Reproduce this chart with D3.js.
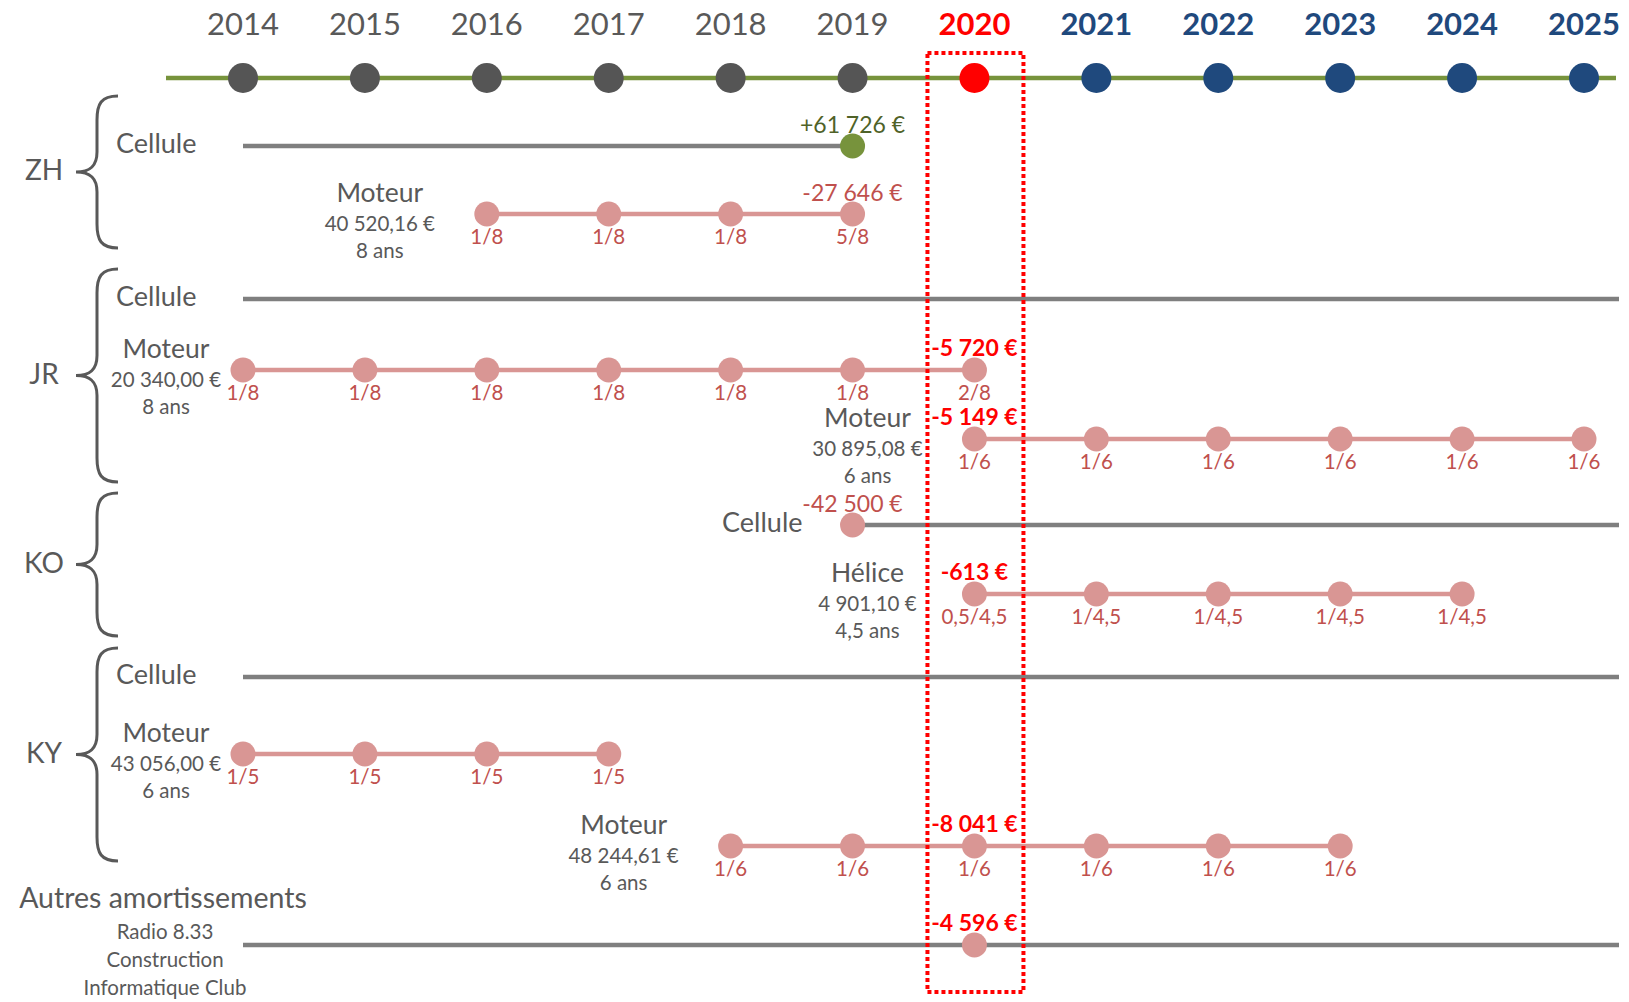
<!DOCTYPE html>
<html>
<head>
<meta charset="utf-8">
<script src="https://cdn.jsdelivr.net/npm/d3@7"></script>
<style>
  html, body { margin: 0; background: #fff; }
  svg { display: block; font-family: Lato, "Open Sans", sans-serif; }
</style>
</head>
<body>
<svg id="chart" width="1629" height="1002"></svg>
<script>
// ---------- data ----------
const years = [2014, 2015, 2016, 2017, 2018, 2019, 2020, 2021, 2022, 2023, 2024, 2025];
const currentYear = 2020;
const aircraft = ["ZH", "JR", "KO", "KY"];
const otherItems = ["Radio 8.33", "Construction", "Informatique Club"];

// one entry per line of the schedule, top to bottom
// to: null = still running past the last year
const rows = [
  { group: "ZH", kind: "cellule", label: "Cellule", from: 2014, to: 2019, eventYear: 2019, amount: "+61 726 €" },
  { group: "ZH", kind: "moteur", label: "Moteur", cost: "40 520,16 €", life: "8 ans", from: 2016,
    shares: ["1/8", "1/8", "1/8", "5/8"], eventYear: 2019, amount: "-27 646 €" },
  { group: "JR", kind: "cellule", label: "Cellule", from: 2014, to: null },
  { group: "JR", kind: "moteur", label: "Moteur", cost: "20 340,00 €", life: "8 ans", from: 2014,
    shares: ["1/8", "1/8", "1/8", "1/8", "1/8", "1/8", "2/8"], eventYear: 2020, amount: "-5 720 €" },
  { group: "JR", kind: "moteur", label: "Moteur", cost: "30 895,08 €", life: "6 ans", from: 2020,
    shares: ["1/6", "1/6", "1/6", "1/6", "1/6", "1/6"], eventYear: 2020, amount: "-5 149 €" },
  { group: "KO", kind: "cellule", label: "Cellule", from: 2019, to: null, eventYear: 2019, amount: "-42 500 €" },
  { group: "KO", kind: "moteur", label: "Hélice", cost: "4 901,10 €", life: "4,5 ans", from: 2020,
    shares: ["0,5/4,5", "1/4,5", "1/4,5", "1/4,5", "1/4,5"], eventYear: 2020, amount: "-613 €" },
  { group: "KY", kind: "cellule", label: "Cellule", from: 2014, to: null },
  { group: "KY", kind: "moteur", label: "Moteur", cost: "43 056,00 €", life: "6 ans", from: 2014,
    shares: ["1/5", "1/5", "1/5", "1/5"] },
  { group: "KY", kind: "moteur", label: "Moteur", cost: "48 244,61 €", life: "6 ans", from: 2018,
    shares: ["1/6", "1/6", "1/6", "1/6", "1/6", "1/6"], eventYear: 2020, amount: "-8 041 €" },
  { group: null, kind: "autres", label: "Autres amortissements", from: 2014, to: null, eventYear: 2020, amount: "-4 596 €" }
];

// ---------- layout ----------
const timelineY = 78, yearLabelY = 23, firstRowY = 146;
// vertical distance from the previous row
const rowGaps = [0, 68, 85, 71, 69, 86, 69, 83, 77, 92, 99];
// brace reach above first / below last row of each aircraft
const bracePad = { ZH: [50, 34], JR: [30, 43], KO: [32, 42], KY: [29, 15] };

const GREY_TEXT = "#595959", GREY_LINE = "#7f7f7f", PINK = "#d99694", PINK_TEXT = "#c0504d";
const RED = "#ff0000", NAVY = "#1f497d", OLIVE = "#77933c", OLIVE_TEXT = "#4f6228";

const svg = d3.select("#chart");
const x = d3.scalePoint().domain(years).range([243, 1584]);
const rightEnd = x(years[years.length - 1]) + 35;
const cum = d3.cumsum(rowGaps);
rows.forEach((r, i) => { r.y = firstRowY + cum[i]; });

// ---------- timeline ----------
svg.append("line")
  .attr("x1", 166).attr("x2", 1616)
  .attr("y1", timelineY).attr("y2", timelineY)
  .attr("stroke", OLIVE).attr("stroke-width", 4.5);

const yearColor = (y) => (y < currentYear ? "#555555" : y === currentYear ? RED : NAVY);

svg.append("g").selectAll("circle")
  .data(years).join("circle")
  .attr("cx", (d) => x(d)).attr("cy", timelineY).attr("r", 15)
  .attr("fill", yearColor);

svg.append("g").selectAll("text")
  .data(years).join("text")
  .attr("x", (d) => x(d)).attr("y", yearLabelY)
  .attr("text-anchor", "middle").attr("dominant-baseline", "central")
  .attr("font-size", 31)
  .attr("font-weight", (d) => (d < currentYear ? 400 : 700))
  .attr("fill", (d) => (d < currentYear ? GREY_TEXT : yearColor(d)))
  .text((d) => d);

// ---------- rows ----------
const g = svg.append("g");

rows.forEach((r) => {
  if (r.kind === "moteur") {
    const ys = r.shares.map((_, i) => r.from + i);
    g.append("line")
      .attr("x1", x(ys[0])).attr("x2", x(ys[ys.length - 1]))
      .attr("y1", r.y).attr("y2", r.y)
      .attr("stroke", PINK).attr("stroke-width", 4.5);
    g.selectAll(null).data(ys).join("circle")
      .attr("cx", (d) => x(d)).attr("cy", r.y).attr("r", 12.5)
      .attr("fill", PINK);
    g.selectAll(null).data(r.shares).join("text")
      .attr("x", (d, i) => x(ys[i])).attr("y", r.y + 22)
      .attr("text-anchor", "middle").attr("dominant-baseline", "central")
      .attr("font-size", 20.5).attr("fill", PINK_TEXT)
      .text((d) => d);

    // stacked description left of the first dot
    const cx = r.from === years[0] ? x(r.from) - 77 : x(r.from) - 107;
    const lab = g.append("g").attr("text-anchor", "middle").attr("fill", GREY_TEXT);
    lab.append("text").attr("x", cx).attr("y", r.y - 22)
      .attr("dominant-baseline", "central").attr("font-size", 26.5).text(r.label);
    lab.append("text").attr("x", cx).attr("y", r.y + 9)
      .attr("dominant-baseline", "central").attr("font-size", 20.5).text(r.cost);
    lab.append("text").attr("x", cx).attr("y", r.y + 36)
      .attr("dominant-baseline", "central").attr("font-size", 20.5).text(r.life);
  } else {
    const x1 = x(r.from);
    const x2 = r.to == null ? rightEnd : x(r.to);
    g.append("line")
      .attr("x1", x1).attr("x2", x2).attr("y1", r.y).attr("y2", r.y)
      .attr("stroke", GREY_LINE).attr("stroke-width", 4.5);

    if (r.kind === "cellule") {
      const leftLabel = r.from === years[0];
      g.append("text")
        .attr("x", leftLabel ? 116 : x1 - 50).attr("y", r.y - 4)
        .attr("text-anchor", leftLabel ? "start" : "end")
        .attr("dominant-baseline", "central")
        .attr("font-size", 27).attr("fill", GREY_TEXT)
        .text(r.label);
    } else {
      const cx = 163;
      g.append("text").attr("x", cx).attr("y", r.y - 48)
        .attr("text-anchor", "middle").attr("dominant-baseline", "central")
        .attr("font-size", 28.5).attr("fill", GREY_TEXT).text(r.label);
      g.selectAll(null).data(otherItems).join("text")
        .attr("x", cx + 2).attr("y", (d, i) => r.y - 14 + i * 28)
        .attr("text-anchor", "middle").attr("dominant-baseline", "central")
        .attr("font-size", 20.5).attr("fill", GREY_TEXT).text((d) => d);
    }

    if (r.eventYear != null) {
      g.append("circle")
        .attr("cx", x(r.eventYear)).attr("cy", r.y).attr("r", 12.5)
        .attr("fill", r.amount.startsWith("+") ? OLIVE : PINK);
    }
  }

  if (r.amount) {
    const gain = r.amount.startsWith("+");
    const now = r.eventYear === currentYear;
    g.append("text")
      .attr("x", x(r.eventYear)).attr("y", r.y - (now ? 23 : 22))
      .attr("text-anchor", "middle").attr("dominant-baseline", "central")
      .attr("font-size", 23)
      .attr("font-weight", now ? 700 : 400)
      .attr("fill", gain ? OLIVE_TEXT : now ? RED : PINK_TEXT)
      .text(r.amount);
  }
});

// ---------- braces per aircraft ----------
const bx = 97, bTip = 76, bEnd = 118;
aircraft.forEach((code) => {
  const gr = rows.filter((r) => r.group === code);
  const top = gr[0].y - bracePad[code][0];
  const bottom = gr[gr.length - 1].y + bracePad[code][1];
  const mid = (top + bottom) / 2;
  const p = d3.path();
  p.moveTo(bEnd, top);
  p.bezierCurveTo(101, top, bx, top + 8, bx, top + 24);
  p.lineTo(bx, mid - 20);
  p.bezierCurveTo(bx, mid - 6, 90, mid, bTip, mid);
  p.bezierCurveTo(90, mid, bx, mid + 6, bx, mid + 20);
  p.lineTo(bx, bottom - 24);
  p.bezierCurveTo(bx, bottom - 8, 101, bottom, bEnd, bottom);
  svg.append("path").attr("d", p.toString())
    .attr("fill", "none").attr("stroke", GREY_TEXT).attr("stroke-width", 3);
  svg.append("text")
    .attr("x", 44).attr("y", mid - 3)
    .attr("text-anchor", "middle").attr("dominant-baseline", "central")
    .attr("font-size", 28).attr("fill", GREY_TEXT)
    .text(code);
});

// ---------- current year frame ----------
svg.append("rect")
  .attr("x", x(currentYear) - 47).attr("y", timelineY - 25)
  .attr("width", 96).attr("height", rows[rows.length - 1].y + 47 - (timelineY - 25))
  .attr("fill", "none").attr("stroke", RED).attr("stroke-width", 4)
  .attr("stroke-dasharray", "4 3");
</script>
</body>
</html>
